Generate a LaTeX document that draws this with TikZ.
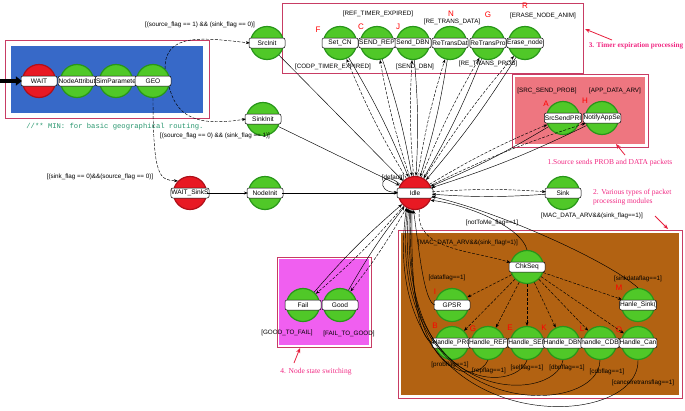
\documentclass[tikz,border=0pt]{standalone}
\usepackage{fontspec}
\setmainfont{Liberation Sans}
\newfontfamily\anfont{Liberation Serif}
\newfontfamily\cmfont{Liberation Mono}
\usetikzlibrary{arrows.meta}
\definecolor{gfill}{RGB}{80,200,40}
\definecolor{gdark}{RGB}{40,150,25}
\definecolor{rfill}{RGB}{232,25,35}
\definecolor{rdark}{RGB}{175,15,25}
\definecolor{bluebox}{RGB}{55,105,200}
\definecolor{salmon}{RGB}{238,118,128}
\definecolor{brownbox}{RGB}{178,98,18}
\definecolor{magbox}{RGB}{240,95,240}
\definecolor{boxb}{RGB}{200,60,100}
\definecolor{annot}{RGB}{240,40,130}
\definecolor{annarrow}{RGB}{230,30,60}
\definecolor{cmtgreen}{RGB}{40,150,110}
\newcommand\mkst[4]{\node[#1] (#2) at (#3) {}; \node[lab] (#2L) at (#2) {#4};}
\begin{document}
\begin{tikzpicture}[x=1pt,y=-1pt,
  gst/.style={circle, draw=gdark, line width=1.2pt, fill=gfill, minimum size=33pt, inner sep=0pt},
  rst/.style={gst, draw=rdark, fill=rfill},
  lab/.style={rectangle, rounded corners=2pt, draw=black, line width=0.5pt, fill=white,
    minimum width=36pt, minimum height=10pt, inner sep=0.5pt, font=\fontsize{6.6}{7}\selectfont},
  cond/.style={font=\fontsize{6.3}{7}\selectfont, inner sep=0.5pt},
  tl/.style={text=red, font=\fontsize{8}{9}\selectfont, inner sep=0pt},
  ann/.style={text=annot, font=\anfont\fontsize{7.5}{9}\selectfont, align=left, inner sep=0pt},
  go/.style={-{Stealth[length=4pt,width=3pt]}, dashed, dash pattern=on 3pt off 1.5pt, line width=0.45pt},
  back/.style={-{Stealth[length=4pt,width=3pt]}, line width=0.45pt},
  box/.style={draw=boxb, line width=0.8pt},
  annarr/.style={-{Stealth[length=5pt,width=4pt]}, draw=annarrow, line width=0.8pt}]
\useasboundingbox (0,0) rectangle (685,410);

% ---------- boxes ----------
\draw[box, fill=white] (5,40) rectangle (209,118);
\fill[bluebox] (11,46) rectangle (203,113);
\draw[box, fill=white] (282,3) rectangle (583,73);
\draw[box, fill=white] (512,74) rectangle (648,147);
\fill[salmon] (515,77) rectangle (645,144);
\draw[box, fill=white] (398,230) rectangle (682,398);
\fill[brownbox] (401,233) rectangle (679,395);
\draw[box, fill=white] (277,257) rectangle (371,347);
\fill[magbox] (279,259) rectangle (369,345);

% ---------- states ----------
\mkst{rst}{wait}{39,81}{WAIT}
\mkst{gst}{nodeattr}{77,81}{NodeAttribut}
\mkst{gst}{simparam}{116,81}{SimParamete}
\mkst{gst}{geo}{153,81}{GEO}

\mkst{gst}{srcinit}{267,43}{SrcInit}
\mkst{gst}{setcn}{340,43}{Set\_CN}
\mkst{gst}{sendrep}{377,43}{SEND\_REP}
\mkst{gst}{senddbn}{413,43}{Send\_DBN}
\mkst{gst}{retransdat}{450,43}{ReTransDat}
\mkst{gst}{retranspro}{488,43}{ReTransPro}
\mkst{gst}{erasenode}{525,43}{Erase\_node}

\mkst{gst}{srcsend}{563,118}{SrcSendPRI}
\mkst{gst}{notify}{602,118}{NotifyAppSe}

\mkst{gst}{sinkinit}{263,119}{SinkInit}
\mkst{rst}{waitsink}{190,193}{WAIT\_SinkS}
\mkst{gst}{nodeinit}{265,193}{NodeInit}
\mkst{rst}{idle}{415,193}{Idle}
\mkst{gst}{sink}{563,193}{Sink}

\mkst{gst}{fail}{303,305}{Fail}
\mkst{gst}{good}{340,305}{Good}

\mkst{gst}{chkseq}{527,267}{ChkSeq}
\mkst{gst}{gpsr}{452,305}{GPSR}
\mkst{gst}{hsink}{638,305}{Hanle\_Sink(}
\mkst{gst}{hpro}{452,343}{Handle\_PRO}
\mkst{gst}{href}{488,343}{Handle\_REF}
\mkst{gst}{hsel}{527,343}{Handle\_SEL}
\mkst{gst}{hdbn}{563,343}{Handle\_DBN}
\mkst{gst}{hcdb}{600,343}{handle\_CDB}
\mkst{gst}{hcar}{638,343}{Handle\_Can}

% ---------- red letters ----------
\node[tl] (lF) at (318,30) {F};
\node[tl] (lC) at (361,27) {C};
\node[tl] (lJ) at (398,27) {J};
\node[tl] (lN) at (451,14) {N};
\node[tl] (lG) at (488,15) {G};
\node[tl] (lR) at (525,6) {R};
\node[tl] (lA) at (546,104) {A};
\node[tl] (lH) at (585,101) {H};
\node[tl] (lI) at (435,292) {I};
\node[tl] (lM) at (619,288) {M};
\node[tl] (lB) at (435,326) {B};
\node[tl] (lG2) at (473,329) {G};
\node[tl] (lE) at (510,328) {E};
\node[tl] (lK) at (544,328) {K};
\node[tl] (lL) at (582,329) {L};
\node[tl] (lO) at (619,330) {O};

% ---------- entry arrow ----------
\coordinate (entry) at (0,81);
\draw[line width=3.2pt, -{Triangle[length=6pt,width=9pt]}] (entry) -- (wait);

% ---------- initialisation transitions ----------
\draw[go] (geo.north east) .. controls (164,32) and (205,38) .. (srcinit.west);
\draw[go] (geo.-20) .. controls (176,112) and (190,128) .. (sinkinit.west);
\draw[go] (geo.south) .. controls (153,178) and (160,180) .. (waitsink.north west);
\draw[back] (waitsink) -- (nodeinit);
\draw[back] (nodeinit) -- (idle);
\draw[back] (srcinit) -- (idle);
\draw[back] (sinkinit) -- (idle);

% ---------- idle <-> processing states ----------
\foreach \n in {setcn,sendrep,senddbn,retransdat,retranspro,erasenode,srcsend,notify,sink,fail,good} {
  \draw[go] (idle) to[bend left=4] (\n);
  \draw[back] (\n) to[bend left=4] (idle);
}
\draw[back] (idle.150) .. controls (382,168) and (374,192) .. (idle.178);

% ---------- brown box ----------
\draw[go] (idle.-75) .. controls (414,250) and (470,250) .. (chkseq.165);
\foreach \n in {gpsr,hpro,href,hsel,hdbn,hcdb,hcar,hsink} \draw[go] (chkseq) -- (\n);
\draw[back] (chkseq.north) .. controls (522,228) and (470,205) .. (idle.-25);
\draw[back] (hsink.north) .. controls (610,262) and (500,212) .. (idle.-12);
\draw[back] (gpsr.west) .. controls (424,302) and (419,250) .. (idle.-95);
\draw[back] (hpro.west) .. controls (413,343) and (411,255) .. (idle.-100);
\draw[back] (href.south) .. controls (478,385) and (405,385) .. (idle.-104);
\draw[back] (hsel.south) .. controls (515,394) and (400,394) .. (idle.-108);
\draw[back] (hdbn.south) .. controls (555,405) and (392,408) .. (idle.-112);
\draw[back] (hcdb.south) .. controls (600,420) and (384,424) .. (idle.-116);
\draw[back] (hcar.south) .. controls (640,436) and (374,440) .. (idle.-120);

% ---------- condition labels ----------
\node[cond] (c1) at (200,25) {[(source\_flag == 1) \&\& (sink\_flag == 0)]};
\node[cond] (c2) at (215,136) {[(source\_flag == 0) \&\& (sink\_flag == 1)]};
\node[cond] (c3) at (100,177) {[(sink\_flag == 0)\&\&(source\_flag == 0)]};
\node[cond] (c4) at (378,14) {[REF\_TIMER\_EXPIRED]};
\node[cond] (c5) at (452,22) {[RE\_TRANS\_DATA]};
\node[cond] (c6) at (543,16) {[ERASE\_NODE\_ANIM]};
\node[cond] (c7) at (333,67) {[CODP\_TIMER\_EXPIRED]};
\node[cond] (c8) at (415,67) {[SEND\_DBN]};
\node[cond] (c9) at (488,64) {[RE\_TRANS\_PROB]};
\node[cond] (c10) at (547,91) {[SRC\_SEND\_PROB]};
\node[cond] (c11) at (615,91) {[APP\_DATA\_ARV]};
\node[cond] (c12) at (592,216) {[MAC\_DATA\_ARV\&\&(sink\_flag==1)]};
\node[cond] (c13) at (393,178) {[default]};
\node[cond] (c14) at (492,223) {[notToMe\_flag==1]};
\node[cond] (c15) at (468,243) {[MAC\_DATA\_ARV\&\&(sink\_flag!=1)]};
\node[cond] (c16) at (447,278) {[dataflag==1]};
\node[cond] (c17) at (638,279) {[sinkdataflag==1]};
\node[cond] (c18) at (450,365) {[probflag==1]};
\node[cond] (c19) at (489,371) {[repflag==1]};
\node[cond] (c20) at (527,368) {[selflag==1]};
\node[cond] (c21) at (567,368) {[dbnflag==1]};
\node[cond] (c22) at (607,372) {[cdbflag==1]};
\node[cond] (c23) at (643,383) {[cancelretransflag==1]};
\node[cond] (c24) at (287,333) {[GOOD\_TO\_FAIL]};
\node[cond] (c25) at (349,334) {[FAIL\_TO\_GOOD]};

% ---------- comment ----------
\node[text=cmtgreen, font=\cmfont\fontsize{7.2}{8}\selectfont, inner sep=0pt] (cmt) at (115,127) {//** MIN: for basic geographical routing.};

% ---------- annotations ----------
\node[ann, font=\anfont\bfseries\fontsize{7.2}{9}\selectfont] (a3) at (636,46) {3. Timer expiration processing};
\coordinate (a3s) at (612,40); \coordinate (a3e) at (585,29);
\draw[annarr] (a3s) -- (a3e);
\node[ann] (a1) at (610,163) {1.Source sends PROB and DATA packets};
\coordinate (a1s) at (625,155); \coordinate (a1e) at (616,144);
\draw[annarr] (a1s) -- (a1e);
\node[ann, anchor=west] (a2) at (593,197) {2. Various types of packet\\processing modules};
\coordinate (a2s) at (655,216); \coordinate (a2e) at (668,229);
\draw[annarr] (a2s) -- (a2e);
\node[ann] (a4) at (316,372) {4. Node state switching};
\coordinate (a4s) at (294,363); \coordinate (a4e) at (300,348);
\draw[annarr] (a4s) -- (a4e);
\end{tikzpicture}
\end{document}
